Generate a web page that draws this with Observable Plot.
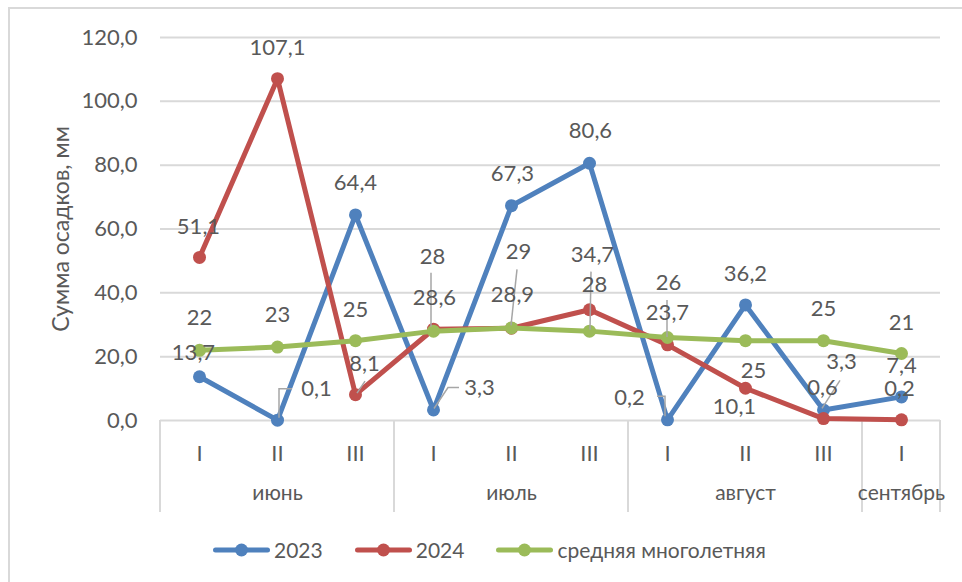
<!DOCTYPE html>
<html>
<head>
<meta charset="utf-8">
<script src="https://cdn.jsdelivr.net/npm/d3@7"></script>
<script src="https://cdn.jsdelivr.net/npm/@observablehq/plot@0.6"></script>
<style>
  body { margin: 0; background: #fff; }
  #wrap { position: relative; width: 962px; height: 582px; overflow: hidden; font-family: Lato, "Noto Sans", sans-serif; color: #595959; }
  #frame { position: absolute; left: 8px; top: 7px; width: 1100px; height: 700px; border-left: 2px solid #d9d9d9; border-top: 2px solid #d9d9d9; }
  #legend { position: absolute; left: 213px; top: 537px; display: flex; align-items: center; font-size: 21px; }
  .item { display: flex; align-items: center; margin-right: 32px; }
  .item svg { margin-right: 4px; }
</style>
</head>
<body>
<div id="wrap"><div id="frame"></div><div id="chart"></div><div id="legend"></div></div>
<script>
// ---- data ----
const months = ["июнь", "июль", "август", "сентябрь"];
const monthDekads = [3, 3, 3, 1];
const dekads = ["I", "II", "III", "I", "II", "III", "I", "II", "III", "I"];
const seriesNames = ["2023", "2024", "средняя многолетняя"];
const values2023 = [13.7, 0.1, 64.4, 3.3, 67.3, 80.6, 0.2, 36.2, 3.3, 7.4];
const values2024 = [51.1, 107.1, 8.1, 28.6, 28.9, 34.7, 23.7, 10.1, 0.6, 0.2];
const valuesNorm = [22, 23, 25, 28, 29, 28, 26, 25, 25, 21];
const yTicks = [0, 20, 40, 60, 80, 100, 120];

// ---- styles / label placement (pixel offsets from each point) ----
const colors = ["#4f81bd", "#c0504d", "#9bbb59"];
const labelOffsets = [
  [[-6,-24],[39,-31],[0,-32],[46,-22],[1,-32],[1,-32],[-38,-22],[0,-31],[18,-48],[0,-31]],
  [[-1,-30],[0,-31],[9,-31],[1,-31],[1,-33],[3,-55],[0,-32],[-11,19],[-1,-31],[-2,-31]],
  [[0,-32],[0,-32],[0,-31],[-1,-74],[7,-76],[5,-46],[1,-55],[8,30],[0,-32],[0,-31]]
];
const leaders = [
  {s: 0, i: 1, path: [[2,-2],[2,-31],[15,-31]]},
  {s: 0, i: 3, path: [[1,-1],[15,-22],[26,-22]]},
  {s: 0, i: 6, path: [[-2,-3],[-2,-23],[-10,-23]]},
  {s: 0, i: 8, path: [[-1,-1],[17,-29]]},
  {s: 1, i: 2, path: [[2,-1],[10,-13]]},
  {s: 2, i: 3, path: [[-2,-4],[-2,-58]]},
  {s: 2, i: 4, path: [[0,-2],[6,-58]]},
  {s: 2, i: 5, path: [[1,-1],[2,-59]]},
  {s: 2, i: 6, path: [[0,0],[0,-37]]}
];

const allSeries = [values2023, values2024, valuesNorm];
const fmt1 = v => v.toFixed(1).replace(".", ",");
const fmtLabel = (s, v) => s === 2 ? String(v) : fmt1(v);

// month separators and centres derived from dekad counts
const bounds = [];
const monthCenters = [];
let acc = 0;
monthDekads.forEach(n => { bounds.push(acc - 0.5); monthCenters.push(acc + (n - 1) / 2); acc += n; });
bounds.push(acc - 0.5);

const rows = [];
allSeries.forEach((vals, s) => vals.forEach((v, i) => rows.push({s, i, v})));

const textColor = "#595959";
const grid = "#d9d9d9";
const fontSize = 22;

const marks = [];
marks.push(Plot.ruleY(yTicks, {y: d => d, stroke: grid, strokeWidth: 2}));
// separators below the axis
marks.push(function (index, scales, values, dimensions) {
  const g = d3.create("svg:g");
  const y0 = scales.y(0);
  bounds.forEach(b => {
    g.append("line").attr("x1", scales.x(b)).attr("x2", scales.x(b))
      .attr("y1", y0).attr("y2", y0 + 92).attr("stroke", grid).attr("stroke-width", 2);
  });
  return g.node();
});
allSeries.forEach((vals, s) => {
  const data = vals.map((v, i) => ({i, v}));
  marks.push(Plot.line(data, {x: "i", y: "v", stroke: colors[s], strokeWidth: 5, strokeLinejoin: "round", strokeLinecap: "round"}));
  marks.push(Plot.dot(data, {x: "i", y: "v", r: 6.5, fill: colors[s], stroke: "none"}));
});
// leader lines
marks.push(function (index, scales) {
  const g = d3.create("svg:g");
  leaders.forEach(l => {
    const px = scales.x(l.i), py = scales.y(allSeries[l.s][l.i]);
    g.append("polyline")
      .attr("points", l.path.map(([dx, dy]) => `${px + dx},${py + dy}`).join(" "))
      .attr("fill", "none").attr("stroke", "#a6a6a6").attr("stroke-width", 1.5);
  });
  return g.node();
});
// data labels
rows.forEach(r => {
  const [dx, dy] = labelOffsets[r.s][r.i];
  marks.push(Plot.text([r], {x: "i", y: "v", text: d => fmtLabel(d.s, d.v), dx, dy, fill: textColor, fontSize}));
});
// month labels
marks.push(Plot.text(months, {x: (d, k) => monthCenters[k], text: d => d, frameAnchor: "bottom", dy: 79, fill: textColor, fontSize: 21}));
// y axis title
marks.push(Plot.text(["Сумма осадков, мм"], {frameAnchor: "left", textAnchor: "middle", dx: -99, rotate: -90, fill: textColor, fontSize: 23}));

const chart = Plot.plot({
  width: 962,
  height: 582,
  marginLeft: 160,
  marginRight: 22,
  marginTop: 37,
  marginBottom: 162,
  style: {fontFamily: 'Lato, "Noto Sans", sans-serif', fontSize: fontSize + "px", color: textColor, background: "transparent", overflow: "visible"},
  x: {type: "linear", domain: [-0.5, dekads.length - 0.5], ticks: dekads.map((d, i) => i), tickFormat: i => dekads[i], tickSize: 0, tickPadding: 25, label: null},
  y: {domain: [0, 120], ticks: yTicks, tickFormat: fmt1, tickSize: 0, tickPadding: 23, label: null},
  marks
});
chart.style.position = "absolute";
chart.style.left = "0px";
chart.style.top = "0px";
document.getElementById("chart").appendChild(chart);

// legend
const legend = d3.select("#legend");
seriesNames.forEach((name, s) => {
  const item = legend.append("div").attr("class", "item");
  const sw = item.append("svg").attr("width", 57).attr("height", 16);
  sw.append("line").attr("x1", 2.5).attr("x2", 54.5).attr("y1", 8).attr("y2", 8)
    .attr("stroke", colors[s]).attr("stroke-width", 5).attr("stroke-linecap", "round");
  sw.append("circle").attr("cx", 28.5).attr("cy", 8).attr("r", 6.5).attr("fill", colors[s]);
  item.append("span").text(name);
});
</script>
</body>
</html>
